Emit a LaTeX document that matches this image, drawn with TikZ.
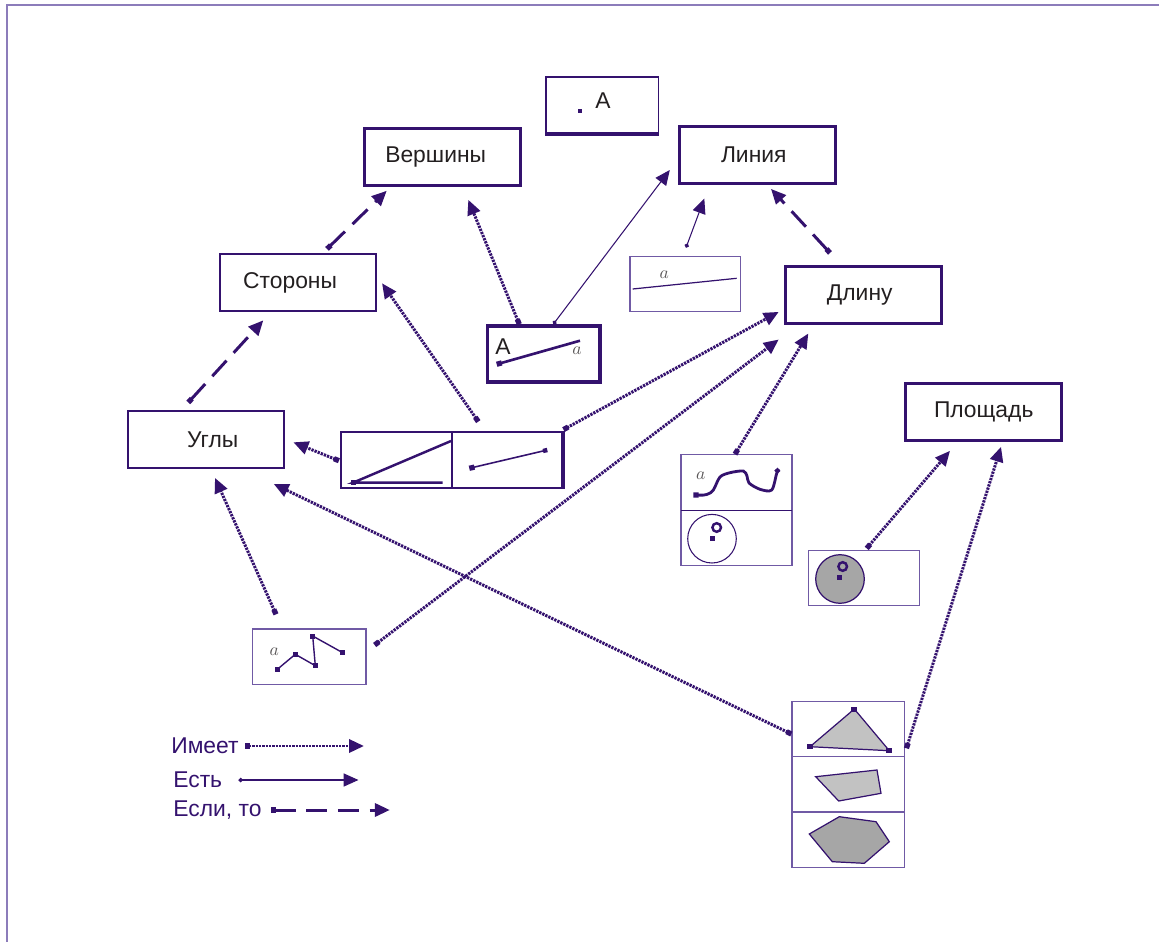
\documentclass[tikz,border=0pt]{standalone}
\usepackage{fontspec}
\setmainfont{Liberation Sans}
\usetikzlibrary{calc,arrows.meta}
\definecolor{ink}{RGB}{52,18,110}
\definecolor{frameline}{RGB}{140,124,186}
\definecolor{thinline}{RGB}{112,90,165}
\definecolor{txt}{RGB}{35,31,32}
\definecolor{lightfill}{RGB}{194,194,194}
\definecolor{darkfill}{RGB}{166,166,166}

\begin{document}
\begin{tikzpicture}[x=0.02cm,y=-0.02cm,
	concept/.style={draw=ink,line width=1.5pt,minimum width=3.12cm,minimum height=1.14cm,inner sep=0pt,text=txt,font=\fontsize{13}{15}\selectfont},
	sketch/.style={draw=thinline,line width=0.7pt,inner sep=0pt},
	mark a/.style={text=txt!75,inner sep=0pt,font=\fontsize{10}{10}\selectfont},
	legend/.style={anchor=west,inner sep=0pt,text=ink,font=\fontsize{13}{15}\selectfont},
	has/.style={draw=ink,line width=1.7pt,dash pattern=on 1.3pt off 0.6pt,{Square[length=3pt,width=3pt]}-{Triangle[length=8.5pt,width=7.5pt]}},
	is/.style={draw=ink,line width=0.6pt,{Circle[length=2.5pt]}-{Triangle[length=8.5pt,width=7.5pt]}},
	ifthen/.style={draw=ink,line width=1.7pt,dash pattern=on 12pt off 6pt,{Square[length=3pt,width=3pt]}-{Triangle[length=8.5pt,width=7.5pt]}}]
		%%%%% START %%%%%
		
		\useasboundingbox (0,0) rectangle (1159,942);
		\draw[frameline,line width=1.2pt] (7,942) -- (7,5) -- (1159,5);
		
		\node[concept] (vershiny) at (442.7,156.7) {\hspace*{-8pt}Вершины};
		\node[concept] (liniya) at (757.7,154.7) {\hspace*{-4.5pt}Линия};
		\node[concept,line width=1.2pt] (storony) at (298,282.5) {\hspace*{-9pt}Стороны};
		\node[concept] (dlinu) at (863.7,294.7) {\hspace*{-4.5pt}Длину};
		\node[concept,line width=1.2pt] (ugly) at (205.7,439.7) {\hspace*{8pt}Углы};
		\node[concept] (ploshad) at (983.7,411.7) {Площадь};
		
		\node[concept,line width=1pt,minimum width=2.25cm,minimum height=1.11cm] (punkt) at (602.3,105) {};
		\draw[ink,line width=2.2pt] (punkt.south west) -- (punkt.south east);
		\fill[ink] (578,109.5) rectangle (582,113.5);
		\node[text=txt,font=\fontsize{13}{15}\selectfont] (punktA) at (603,101) {A};
		
		\node[sketch,draw=ink,line width=2.2pt,minimum width=2.25cm,minimum height=1.11cm] (pAline) at (543.7,353.9) {};
		\draw[ink,line width=1.5pt,{Square[length=3pt,width=3pt]}-] (496.7,364.3) -- (580,340.7);
		\node[text=txt,font=\fontsize{13}{15}\selectfont] (aA) at (503,347) {A};
		\node[mark a] (a1) at (577,351) {$a$};
		
		\node[sketch,minimum width=2.21cm,minimum height=1.1cm] (pLine) at (685.3,284.2) {};
		\draw[ink,line width=0.7pt] (632.7,289) -- (736.7,278.3);
		\node[mark a] (a2) at (664.3,275) {$a$};
		
		\node[sketch,draw=ink,line width=1.2pt,minimum width=4.43cm,minimum height=1.11cm] (pAngle) at (451.7,460) {};
		\draw[ink,line width=2pt] (pAngle.north east) -- (pAngle.south east);
		\draw[ink,line width=1.2pt] (452.3,432.3) -- (452.3,487.7);
		\draw[ink,line width=1.4pt] (451,441) -- (353,482.7) -- (442.7,482.7);
		\fill[ink] (350.5,480.2) rectangle (355.5,485.2);
		\draw[ink,line width=0.9pt,{Square[length=3pt,width=3pt]}-{Square[length=2.5pt,width=2.5pt]}] (469.3,468.3) -- (547.3,450);
		
		\node[sketch,minimum width=2.22cm,minimum height=2.21cm] (pCurve) at (736.5,510) {};
		\draw[ink,line width=0.7pt] (681,510.3) -- (792,510.3);
		\draw[ink,line width=1.6pt,{Square[length=3pt,width=3pt]}-{Square[length=2.5pt,width=2.5pt]}] plot[smooth,tension=0.5] coordinates {(693.3,495) (706.7,494.5) (713.3,490) (720,477) (730,472.7) (743.3,471) (747,476) (749,483) (760,489.3) (771.7,490) (776.7,473.3) (779,469.3)};
		\node[mark a] (a3) at (700.7,476) {$a$};
		\draw[ink,line width=0.6pt] (712,538.7) circle (24.3);
		\draw[ink,line width=1.4pt] (716.7,527.5) circle (4.3);
		\fill[ink] (709.5,536) rectangle (714.5,541);
		
		\node[sketch,minimum width=2.21cm,minimum height=1.1cm] (pDisk) at (864,578.2) {};
		\draw[ink,fill=darkfill,line width=0.7pt] (840,579) circle (24.3);
		\draw[ink,line width=1.4pt] (842.7,566.5) circle (4.3);
		\fill[ink] (836.5,575) rectangle (841.5,580);
		
		\node[sketch,minimum width=2.27cm,minimum height=1.11cm] (pPoly) at (309.3,656.7) {};
		\draw[ink,line width=0.8pt] (277.7,669) -- (295.3,654.3) -- (315.3,665.7) -- (312.7,636) -- (342.7,652.7);
		\foreach \p in {(277.7,669),(295.3,654.3),(315.3,665.7),(312.7,636),(342.7,652.7)}
			\fill[ink] \p ++(-2.5,-2.5) rectangle ++(5,5);
		\node[mark a] (a4) at (274.3,651.7) {$a$};
		
		\node[sketch,minimum width=2.25cm,minimum height=3.31cm] (pShapes) at (848.2,784.5) {};
		\draw[thinline,line width=0.7pt] (792,756.7) -- (904.3,756.7);
		\draw[thinline,line width=0.7pt] (792,812) -- (904.3,812);
		\draw[ink,fill=lightfill,line width=0.7pt] (810,746.7) -- (854.3,709) -- (889.3,750.7) -- cycle;
		\foreach \p in {(810,746.7),(854.3,709),(889.3,750.7)}
			\fill[ink] \p ++(-3,-2.5) rectangle ++(6,5);
		\draw[ink,fill=lightfill,line width=0.7pt] (815.7,776.7) -- (877,770) -- (881,793.3) -- (838.7,801) -- cycle;
		\draw[ink,fill=darkfill,line width=0.7pt] (809.3,834) -- (839.3,816.7) -- (876,821.7) -- (889.3,841.7) -- (864.3,863.3) -- (832.3,861.7) -- cycle;
		
		% if-then
		\draw[ifthen] ($(storony.north)+(29,-4)$) -- ($(vershiny.south)+(-56,4.3)$);
		\draw[ifthen] ($(ugly.north)+(-17.4,-7.7)$) -- ($(storony.south)+(-34.7,8.3)$);
		\draw[ifthen] ($(dlinu.north)+(-33.7,-12)$) -- ($(liniya.south)+(13.3,4.4)$);
		
		% is
		\draw[is] ($(pAline.north)+(9.6,0)$) -- ($(liniya.west)+(-8.6,15.3)$);
		\draw[is] ($(pLine.north)+(0.7,-8.4)$) -- ($(liniya.south)+(-53.4,14)$);
		
		% has
		\draw[has] ($(pAline.north)+(-24.4,0)$) -- ($(vershiny.south)+(25.6,13.3)$);
		\draw[has] ($(pAngle.north)+(26.6,-9.6)$) -- ($(storony.east)+(5,0.8)$);
		\draw[has] ($(pAngle.west)+(-1,0.7)$) -- ($(ugly.east)+(8.7,2.6)$);
		\draw[has] ($(pAngle.north east)+(0,-1.6)$) -- ($(dlinu.south west)+(-5.7,-12.6)$);
		\draw[has] ($(pPoly.east)+(8,-11.7)$) -- ($(dlinu.south west)+(-5.7,15)$);
		\draw[has] ($(pCurve.north)+(-1.5,0)$) -- ($(dlinu.south)+(-55.4,9)$);
		\draw[has] ($(pPoly.north)+(-33.3,-14)$) -- ($(ugly.south)+(9.3,8.7)$);
		\draw[has] ($(pShapes.west)+(0,-50.5)$) -- ($(ugly.south east)+(-11,14.7)$);
		\draw[has] ($(pShapes.east)+(1.4,-36.2)$) -- ($(ploshad.south)+(17.3,5.3)$);
		\draw[has] ($(pDisk.north)+(2.7,-1.7)$) -- ($(ploshad.south)+(-33.7,9.3)$);
		
		% legend
		\node[legend] (imeet) at (171,746) {Имеет};
		\node[legend] (est) at (173,780) {Есть};
		\node[legend] (esli) at (173,810) {Если, то};
		\draw[has] ($(imeet.east)+(6,0)$) -- ++(119,0);
		\draw[is] ($(est.east)+(16,0)$) -- ++(120,0);
		\draw[ifthen] ($(esli.east)+(9,0)$) -- ++(119,0);
		
		%%%%% END %%%%%
	\end{tikzpicture}
\end{document}
